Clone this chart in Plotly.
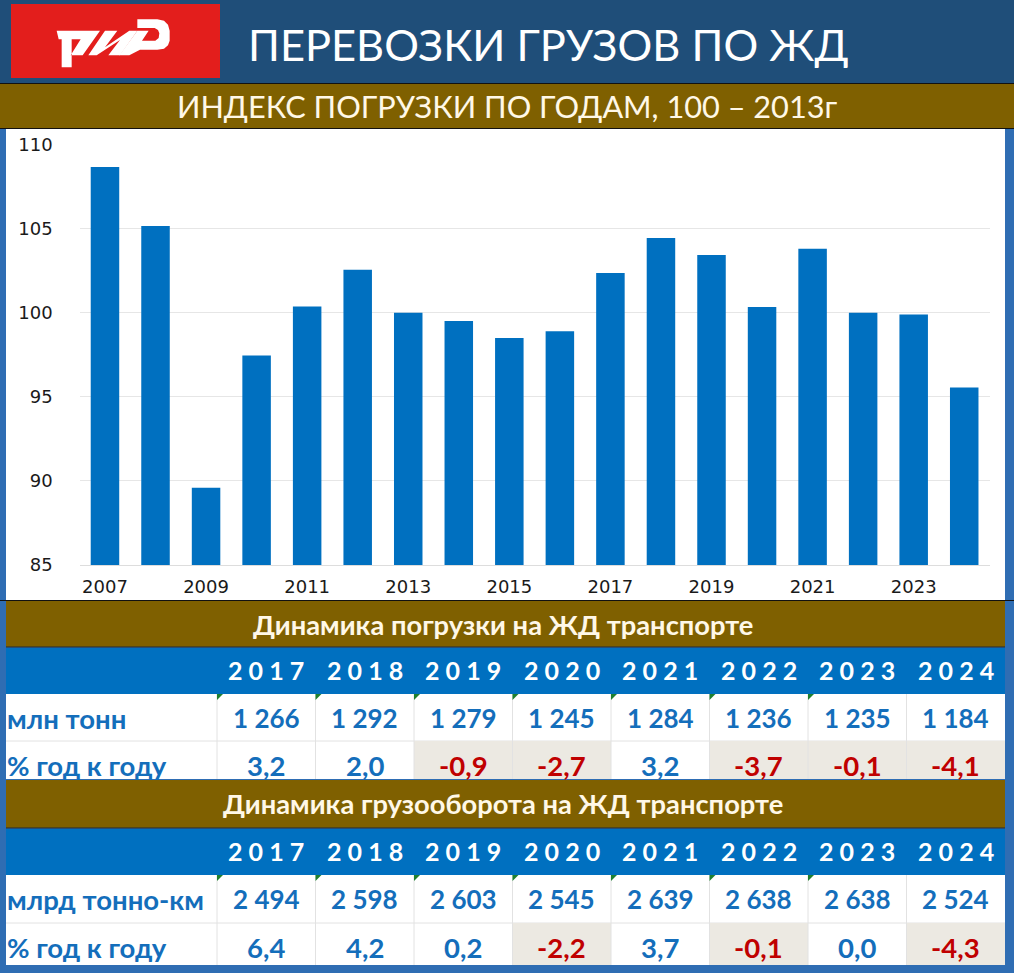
import plotly.graph_objects as go

W = 1014
H = 973

years = [2007, 2008, 2009, 2010, 2011, 2012, 2013, 2014, 2015, 2016, 2017, 2018,
         2019, 2020, 2021, 2022, 2023, 2024]
index_values = [108.66, 105.15, 89.6, 97.45, 100.37, 102.55, 100.0, 99.5, 98.5,
                98.9, 102.36, 104.44, 103.43, 100.34, 103.8, 100.0, 99.9, 95.55]
y_ticks = [85, 90, 95, 100, 105, 110]
x_ticks = [2007, 2009, 2011, 2013, 2015, 2017, 2019, 2021, 2023]

table_years = [2017, 2018, 2019, 2020, 2021, 2022, 2023, 2024]
loading_mt = [1266, 1292, 1279, 1245, 1284, 1236, 1235, 1184]
loading_pct = [3.2, 2.0, -0.9, -2.7, 3.2, -3.7, -0.1, -4.1]
turnover_tkm = [2494, 2598, 2603, 2545, 2639, 2638, 2638, 2524]
turnover_pct = [6.4, 4.2, 0.2, -2.2, 3.7, -0.1, 0.0, -4.3]

FRAME = "#2F6DB3"
NAVY = "#1F4E79"
GOLD = "#7F6000"
BLUE = "#0070C0"
TEXT_BLUE = "#146EBB"
RED = "#C00000"
BEIGE = "#ECE9E2"
FONT = "Lato"

shapes = []
notes = []


def px(x):
    return x / W


def py(y):
    return 1 - y / H


def rect(x0, y0, x1, y1, color):
    shapes.append(dict(type="rect", xref="paper", yref="paper", layer="below",
                       x0=px(x0), x1=px(x1), y0=py(y0), y1=py(y1),
                       fillcolor=color, line=dict(width=0)))


def line(x0, y0, x1, y1, color, width=1):
    shapes.append(dict(type="line", xref="paper", yref="paper", layer="below",
                       x0=px(x0), x1=px(x1), y0=py(y0), y1=py(y1),
                       line=dict(color=color, width=width)))


def poly(points, color):
    path = "M " + " L ".join(f"{px(x):.5f},{py(y):.5f}" for x, y in points) + " Z"
    shapes.append(dict(type="path", xref="paper", yref="paper", layer="below",
                       path=path, fillcolor=color, line=dict(width=0)))


def text(x, y, s, size, color, bold=False, anchor="center", font=FONT):
    if bold:
        s = f"<b>{s}</b>"
    notes.append(dict(xref="paper", yref="paper", x=px(x), y=py(y), text=s,
                      showarrow=False, xanchor=anchor, yanchor="middle",
                      font=dict(family=font, size=size, color=color)))


def fmt_int(v):
    return f"{v:,}".replace(",", " ")


def fmt_pct(v):
    return f"{v:.1f}".replace(".", ",")


# header bands
rect(0, 0, W, 83, NAVY)
rect(11, 4, 220, 78, "#E31E1C")
line(0, 83.5, W, 83.5, "#111111")
rect(0, 84, W, 128, GOLD)
line(0, 128.5, W, 128.5, "#111111")
rect(6, 129, 1005, 600, "white")
line(0, 600.5, W, 600.5, "#111111")


# logo, zoomed outline scaled down
def logo(points):
    poly([(40 + x / 3, 10 + y / 3) for x, y in points], "white")


logo([(50, 62), (180, 62), (128, 136), (92, 136), (122, 88), (95, 88), (95, 172),
      (65, 172), (65, 88), (56, 88)])
logo([(195, 62), (232, 62), (195, 112), (268, 62), (292, 62), (240, 136), (205, 136),
      (240, 90), (170, 136), (145, 136)])
logo([(292, 28), (352, 28), (372, 32), (384, 44), (389, 62), (389, 92), (384, 106),
      (372, 116), (352, 119), (300, 119), (268, 136), (238, 136), (292, 62),
      (326, 62), (306, 92), (346, 92), (356, 84), (358, 70), (354, 60), (344, 54),
      (292, 54)])

text(548, 44, "ПЕРЕВОЗКИ ГРУЗОВ ПО ЖД", 43.4, "white")
text(507, 106, "ИНДЕКС ПОГРУЗКИ ПО ГОДАМ, 100 – 2013г", 30.7, "#FFF8E7")

# tables
col_edges = [217 + 98.5 * i for i in range(9)]


def table(top, row1, row2, bottom, title, label, values, pct):
    rect(6, top, 1005, row1 - 47, GOLD)
    line(6, row1 - 47, 1005, row1 - 47, "#1a2a3a")
    text(503, top + 23, title, 27.3, "#FFF8E7", bold=True)
    rect(6, row1 - 46, 1005, row1, BLUE)
    rect(6, row1, 1005, bottom, "white")
    line(6, row2, 1005, row2, "#E2E2E2")
    text(5, row1 + 24, label, 27.5, TEXT_BLUE, bold=True, anchor="left")
    text(5, row2 + 24, "% год к году", 27.5, TEXT_BLUE, bold=True, anchor="left")
    for i, year in enumerate(table_years):
        x0, x1 = col_edges[i], col_edges[i + 1]
        mid = (x0 + x1) / 2
        if pct[i] < 0:
            rect(x0, row2, x1, bottom, BEIGE)
        line(x0, row1, x0, bottom, "#E2E2E2")
        if i < 7:
            poly([(x0, row1), (x0 + 6, row1), (x0, row1 + 6)], "#1E8030")
        text(mid, row1 - 24, " ".join(str(year)), 25, "white", bold=True)
        text(mid, row1 + 24, fmt_int(values[i]), 26, TEXT_BLUE, bold=True)
        text(mid, row2 + 24, fmt_pct(pct[i]), 27.5,
             RED if pct[i] < 0 else TEXT_BLUE, bold=True)


table(601, 694, 741, 779, "Динамика погрузки на ЖД транспорте", "млн тонн",
      loading_mt, loading_pct)
table(780, 875, 923, 965, "Динамика грузооборота на ЖД транспорте", "млрд тонно-км",
      turnover_tkm, turnover_pct)

fig = go.Figure(go.Bar(x=years, y=index_values, marker_color="#0070C0",
                       marker_line_width=0))

fig.update_xaxes(domain=[px(79.7), px(989.5)], range=[2006.5, 2024.5],
                 tickvals=x_ticks, showgrid=False, zeroline=False, automargin=False,
                 showline=True, linecolor="#DDDDDD", ticks="", ticklabelstandoff=5,
                 tickfont=dict(family="DejaVu Sans", size=18, color="#1A1A1A"))
fig.update_yaxes(domain=[py(565), py(144.5)], range=[85, 110], tickvals=y_ticks,
                 gridcolor="#E6E6E6", zeroline=False, ticks="", automargin=False,
                 ticklabelstandoff=26,
                 tickfont=dict(family="DejaVu Sans", size=18, color="#1A1A1A"))

fig.update_layout(width=W, height=H, autosize=False, showlegend=False,
                  margin=dict(l=0, r=0, t=0, b=0), bargap=0.436,
                  paper_bgcolor=FRAME, plot_bgcolor="rgba(0,0,0,0)",
                  shapes=shapes, annotations=notes)

fig.write_html("out.html", post_script="document.body.style.margin='0';",
               config=dict(displayModeBar=False))
